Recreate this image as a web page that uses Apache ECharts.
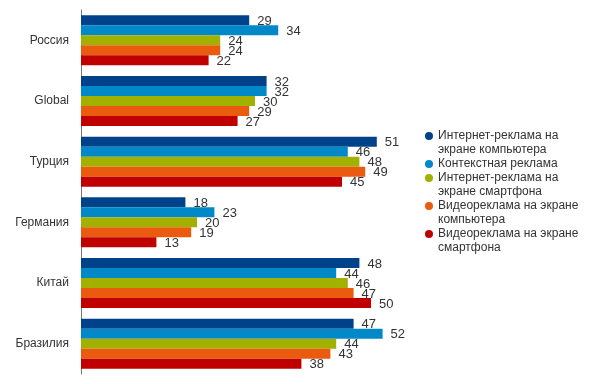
<!DOCTYPE html>
<html>
<head>
<meta charset="utf-8">
<style>html,body{margin:0;padding:0;background:#fff;}#chart{width:594px;height:384px;}</style>
<script src="https://cdn.jsdelivr.net/npm/echarts@6/dist/echarts.min.js"></script>
</head>
<body>
<div id="chart"></div>
<script>
const categories = ['Россия', 'Global', 'Турция', 'Германия', 'Китай', 'Бразилия'];
const seriesNames = [
  'Интернет-реклама на экране компьютера',
  'Контекстная реклама',
  'Интернет-реклама на экране смартфона',
  'Видеореклама на экране компьютера',
  'Видеореклама на экране смартфона'
];
const legendLabels = [
  'Интернет-реклама на\nэкране компьютера',
  'Контекстная реклама',
  'Интернет-реклама на\nэкране смартфона',
  'Видеореклама на экране\nкомпьютера',
  'Видеореклама на экране\nсмартфона'
];
const desktopDisplay = [29, 32, 51, 18, 48, 47];
const contextual = [34, 32, 46, 23, 44, 52];
const mobileDisplay = [24, 30, 48, 20, 46, 44];
const desktopVideo = [24, 29, 49, 19, 47, 43];
const mobileVideo = [22, 27, 45, 13, 50, 38];
const seriesValues = [desktopDisplay, contextual, mobileDisplay, desktopVideo, mobileVideo];
const colors = ['#00428a', '#0088c8', '#a2b000', '#ea5b0f', '#c00000'];

const FONT = "'Liberation Sans', Arial, sans-serif";
const chart = echarts.init(document.getElementById('chart'), null, {renderer: 'canvas'});

// icon centre = top + 21 for two-line entries (blank line above), top + 7 for one-line entries
const legendTops = [115, 157, 157, 185, 213];
const legends = seriesNames.map((n, i) => {
  const twoLine = legendLabels[i].indexOf('\n') >= 0;
  return {
    orient: 'vertical',
    left: 425,
    top: legendTops[i],
    padding: 0,
    itemWidth: 8,
    itemHeight: 8,
    icon: 'circle',
    data: [n],
    formatter: () => (twoLine ? ' \n' : '') + legendLabels[i],
    textStyle: {
      fontFamily: FONT,
      fontSize: 12,
      color: '#333',
      lineHeight: 14
    }
  };
});

chart.setOption({
  animation: false,
  color: colors,
  textStyle: {fontFamily: FONT},
  legend: legends,
  grid: {left: 81, top: 10, right: 165, bottom: 10, containLabel: false},
  xAxis: {
    type: 'value', min: 0, max: 60, show: false
  },
  yAxis: {
    type: 'category',
    data: categories,
    inverse: true,
    axisLine: {show: true, lineStyle: {color: '#777', width: 1}},
    axisTick: {show: false},
    axisLabel: {fontFamily: FONT, fontSize: 12, color: '#333', margin: 12},
    splitLine: {show: false}
  },
  series: seriesNames.map((n, i) => ({
    name: n,
    type: 'bar',
    data: seriesValues[i],
    barWidth: 10,
    barGap: '0%',
    itemStyle: {color: colors[i]},
    label: {
      show: true,
      position: 'right',
      distance: 8,
      offset: [0, 1],
      fontFamily: FONT,
      fontSize: 13,
      color: '#333'
    }
  }))
});
</script>
</body>
</html>
